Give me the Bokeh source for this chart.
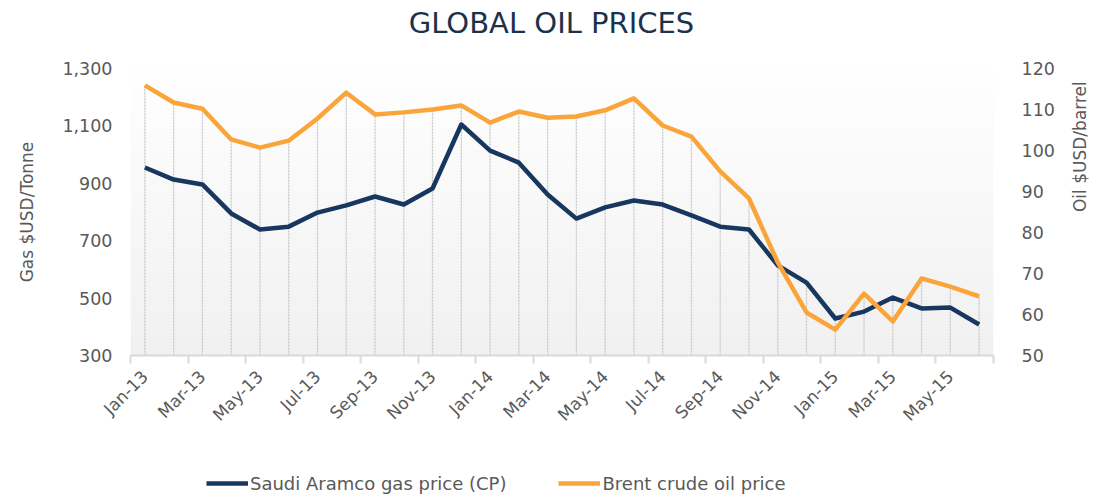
import math
import numpy as np
from bokeh.plotting import figure
from bokeh.layouts import column
from bokeh.models import (Range1d, LinearAxis, FixedTicker, NumeralTickFormatter,
                          Legend, LegendItem, Label)
from bokeh.embed import file_html
from bokeh.resources import INLINE

months = ["Jan-13", "Feb-13", "Mar-13", "Apr-13", "May-13", "Jun-13", "Jul-13", "Aug-13",
          "Sep-13", "Oct-13", "Nov-13", "Dec-13", "Jan-14", "Feb-14", "Mar-14", "Apr-14",
          "May-14", "Jun-14", "Jul-14", "Aug-14", "Sep-14", "Oct-14", "Nov-14", "Dec-14",
          "Jan-15", "Feb-15", "Mar-15", "Apr-15", "May-15", "Jun-15"]
gas_price = [955, 913, 896, 795, 739, 749, 798, 823, 854, 826, 882, 1105, 1014, 972, 861, 777,
             816, 840, 826, 788, 749, 739, 614, 554, 429, 453, 502, 464, 467, 408]
oil_price = [115.9, 111.7, 110.2, 102.7, 100.7, 102.4, 107.8, 114.1, 108.8, 109.3, 110.0, 111.0,
             106.8, 109.5, 108.0, 108.3, 109.8, 112.7, 106.1, 103.4, 94.9, 88.3, 72.7, 60.5,
             56.3, 65.1, 58.3, 68.8, 66.8, 64.4]
gas_ticks = [300, 500, 700, 900, 1100, 1300]
oil_ticks = [50, 60, 70, 80, 90, 100, 110, 120]

GAS_MIN, GAS_MAX = 300, 1300
OIL_MIN, OIL_MAX = 50, 120

NAVY = "#17375E"
ORANGE = "#FAA43A"
GREY_TXT = "#595959"
FONT = "DejaVu Sans"
W = 1102
LEFT = 130  # frames of the stacked figures are aligned to this left border

n = len(months)
xs = [i + 0.5 for i in range(n)]
# oil values expressed in gas-axis units (for the drop lines)
oil_in_gas = [GAS_MIN + (v - OIL_MIN) * (GAS_MAX - GAS_MIN) / (OIL_MAX - OIL_MIN) for v in oil_price]
drop_top = [max(a, b) for a, b in zip(gas_price, oil_in_gas)]

# ---------- header (title) ----------
head = figure(width=W, height=40, title=None, x_axis_type=None, y_axis_type=None,
              output_backend="svg", toolbar_location=None, min_border=0,
              x_range=Range1d(0, 1), y_range=Range1d(0, 1))
head.outline_line_color = None
head.grid.visible = False
head.add_layout(Label(x=W / 2 - LEFT, y=18, x_units="screen", y_units="screen",
                      text="GLOBAL OIL PRICES", text_align="center", text_baseline="alphabetic",
                      text_font=FONT, text_font_size="29px", text_color="#1B324A"))

# ---------- main chart ----------
p = figure(width=W, height=427, frame_width=863, frame_height=287, title=None,
           x_range=Range1d(0, n), y_range=Range1d(GAS_MIN, GAS_MAX),
           output_backend="svg", toolbar_location=None,
           min_border_left=LEFT, min_border_right=109, min_border_top=28, min_border_bottom=112)
p.extra_y_ranges = {"oil": Range1d(OIL_MIN, OIL_MAX)}
p.outline_line_color = None
p.background_fill_color = "white"
p.border_fill_color = "white"
p.xgrid.visible = False
p.ygrid.visible = False

# gradient background of the plot area
rows = 200
t = np.linspace(0, 1, rows)[:, None]  # 0 bottom, 1 top
shade = (241 + 14 * t).astype(np.uint32)
img = np.empty((rows, 1), dtype=np.uint32)
view = img.view(dtype=np.uint8).reshape((rows, 1, 4))
view[:, :, 0] = shade
view[:, :, 1] = shade
view[:, :, 2] = shade
view[:, :, 3] = 255
p.image_rgba(image=[img], x=0, y=GAS_MIN, dw=n, dh=GAS_MAX - GAS_MIN)

# drop lines
p.segment(x0=xs, y0=[GAS_MIN] * n, x1=xs, y1=drop_top,
          line_color="#c8c8c8", line_width=1.3, line_dash="2 1")

p.line(xs, gas_price, line_color=NAVY, line_width=4.5, line_join="round")
p.line(xs, oil_price, line_color=ORANGE, line_width=4.5, line_join="round", y_range_name="oil")

# x axis
xa = p.xaxis[0]
label_pos = [i + 0.5 for i in range(0, n, 2)]
xa.ticker = FixedTicker(ticks=label_pos, minor_ticks=list(range(0, n + 1, 2)))
xa.major_label_overrides = {i + 0.5: months[i] for i in range(0, n, 2)}
xa.major_label_orientation = math.pi / 4
xa.major_tick_line_color = None
xa.minor_tick_line_color = "#d9d9d9"
xa.minor_tick_line_width = 2
xa.minor_tick_in = 0
xa.minor_tick_out = 8
xa.axis_line_color = "#d9d9d9"
xa.axis_line_width = 2
xa.major_label_text_font = FONT
xa.major_label_text_font_size = "17px"
xa.major_label_text_color = GREY_TXT
xa.major_label_standoff = 10

# left axis
ya = p.yaxis[0]
ya.ticker = FixedTicker(ticks=gas_ticks)
ya.formatter = NumeralTickFormatter(format="0,0")
ya.axis_line_color = None
ya.major_tick_line_color = None
ya.minor_tick_line_color = None
ya.major_label_text_font = FONT
ya.major_label_text_font_size = "17.5px"
ya.major_label_text_color = GREY_TXT
ya.major_label_standoff = 12
ya.axis_label = "Gas $USD/Tonne"
ya.axis_label_text_font = FONT
ya.axis_label_text_font_size = "17px"
ya.axis_label_text_font_style = "normal"
ya.axis_label_text_color = GREY_TXT
ya.axis_label_standoff = 22

# right axis
ra = LinearAxis(y_range_name="oil", ticker=FixedTicker(ticks=oil_ticks))
ra.axis_line_color = None
ra.major_tick_line_color = None
ra.minor_tick_line_color = None
ra.major_label_text_font = FONT
ra.major_label_text_font_size = "17.5px"
ra.major_label_text_color = GREY_TXT
ra.major_label_standoff = 22
ra.axis_label = "Oil $USD/barrel"
ra.axis_label_text_font = FONT
ra.axis_label_text_font_size = "17px"
ra.axis_label_text_font_style = "normal"
ra.axis_label_text_color = GREY_TXT
ra.axis_label_standoff = 22
ra.axis_label_orientation = math.pi / 2
p.add_layout(ra, "right")

# ---------- legend strip ----------
leg = figure(width=W, height=30, title=None, x_axis_type=None, y_axis_type=None,
             output_backend="svg", toolbar_location=None, min_border=0,
             x_range=Range1d(0, n), y_range=Range1d(-2, -1))
leg.outline_line_color = None
leg.grid.visible = False
lg_gas = leg.line(xs, gas_price, line_color=NAVY, line_width=4.5)
lg_oil = leg.line(xs, oil_price, line_color=ORANGE, line_width=4.5)

legend = Legend(items=[LegendItem(label="Saudi Aramco gas price (CP)", renderers=[lg_gas]),
                       LegendItem(label="Brent crude oil price", renderers=[lg_oil])],
                orientation="horizontal", location=(206 - LEFT, 3))
legend.label_text_font = FONT
legend.label_text_font_size = "18px"
legend.label_text_color = GREY_TXT
legend.glyph_width = 42
legend.glyph_height = 22
legend.spacing = 52
legend.label_standoff = 2
legend.padding = 0
legend.border_line_color = None
legend.background_fill_alpha = 0
legend.margin = 0
leg.add_layout(legend, "center")

layout = column(head, p, leg, spacing=0)
open("out.html", "w").write(file_html(layout, INLINE))
